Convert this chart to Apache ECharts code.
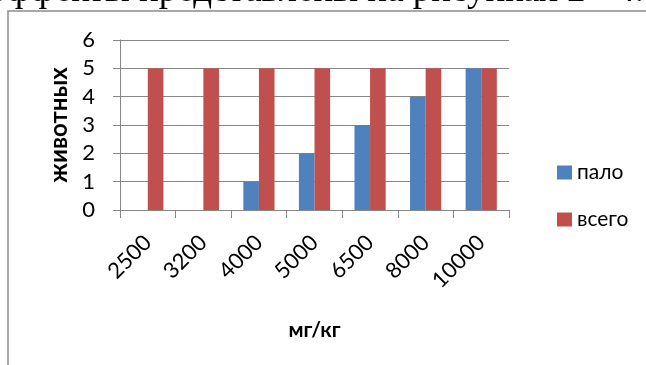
<!DOCTYPE html>
<html>
<head>
<meta charset="utf-8">
<script src="https://cdn.jsdelivr.net/npm/echarts@6/dist/echarts.min.js"></script>
<style>
  html, body { margin: 0; padding: 0; background: #fff; }
  #chart { width: 646px; height: 365px; }
</style>
</head>
<body>
<div id="chart"></div>
<script>
// Doses (mg/kg) and animal counts per dose group
const doses = ['2500', '3200', '4000', '5000', '6500', '8000', '10000'];
const died = [0, 0, 1, 2, 3, 4, 5];
const total = [5, 5, 5, 5, 5, 5, 5];
const yTicks = [0, 1, 2, 3, 4, 5, 6];

const gray = '#878787';
const tickFont = 'Lato';

const chart = echarts.init(document.getElementById('chart'));
chart.setOption({
  animation: false,
  backgroundColor: '#fff',
  graphic: [
    {
      type: 'rect',
      shape: { x: 8, y: 11, width: 800, height: 500 },
      style: { fill: 'none', stroke: '#8c8c8c', lineWidth: 1.5 },
      z: 0
    },
    {
      type: 'text',
      right: 2,
      top: -27,
      style: {
        text: 'эффекты представлены на рисунках 2 - 4.',
        font: '37px "Liberation Serif"',
        fill: '#000'
      },
      z: 1
    }
  ],
  grid: { left: 120, top: 40, width: 389, height: 170 },
  legend: {
    orient: 'vertical',
    left: 552,
    top: 157,
    itemWidth: 15,
    itemHeight: 14,
    itemGap: 26,
    icon: 'rect',
    textStyle: { fontFamily: tickFont, fontSize: 21, color: '#000' },
    data: ['пало', 'всего']
  },
  xAxis: {
    type: 'category',
    data: doses,
    name: 'мг/кг',
    nameLocation: 'middle',
    nameGap: 110,
    nameTextStyle: { fontFamily: tickFont, fontSize: 21, fontWeight: 'bold', color: '#000' },
    axisLine: { lineStyle: { color: gray, width: 1 } },
    axisTick: { show: true, length: 8, alignWithLabel: false, lineStyle: { color: gray } },
    axisLabel: { rotate: 45, margin: 29, fontFamily: tickFont, fontSize: 22, color: '#000', interval: 0 }
  },
  yAxis: {
    type: 'value',
    min: 0,
    max: 6,
    interval: 1,
    name: 'животных',
    nameLocation: 'middle',
    nameRotate: 90,
    nameGap: 48,
    nameTextStyle: { fontFamily: tickFont, fontSize: 24, fontWeight: 'bold', color: '#000' },
    axisLine: { show: true, lineStyle: { color: gray, width: 1 } },
    axisTick: { show: true, length: 7, lineStyle: { color: gray } },
    splitLine: { lineStyle: { color: gray, width: 1 } },
    axisLabel: {
      margin: 25,
      fontFamily: tickFont,
      fontSize: 22,
      color: '#000',
      formatter: v => (yTicks.includes(v) ? String(v) : '')
    }
  },
  series: [
    {
      name: 'пало',
      type: 'bar',
      data: died,
      barWidth: 15.6,
      barGap: '0%',
      itemStyle: { color: '#4F81BD' }
    },
    {
      name: 'всего',
      type: 'bar',
      data: total,
      barWidth: 15.6,
      barGap: '0%',
      itemStyle: { color: '#C0504D' }
    }
  ]
});
</script>
</body>
</html>
